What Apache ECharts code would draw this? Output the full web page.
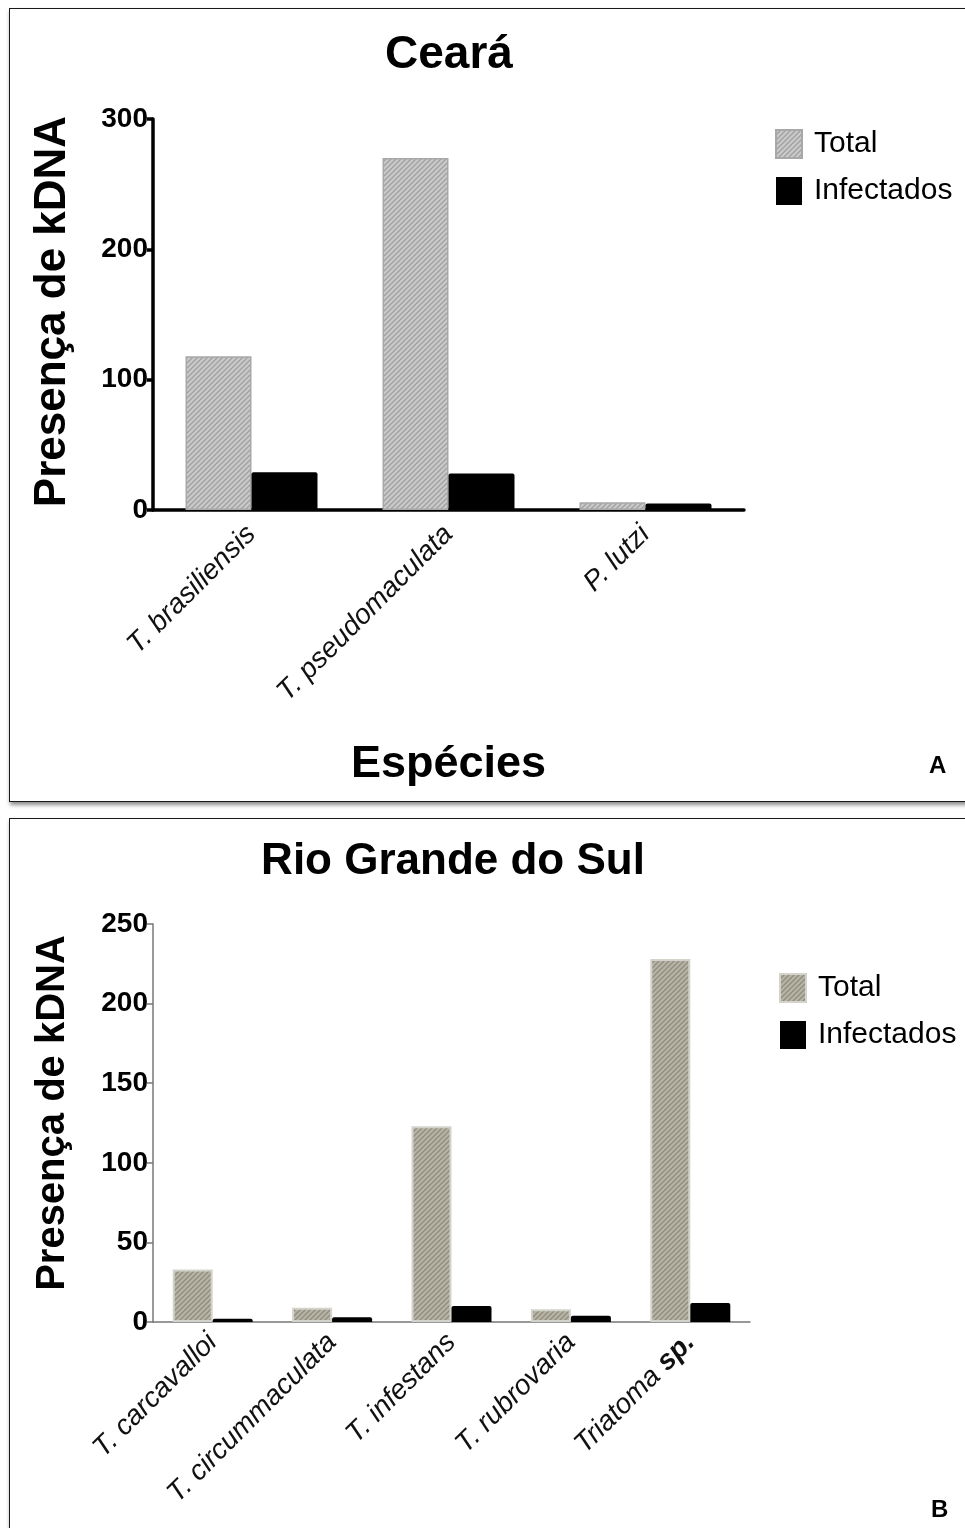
<!DOCTYPE html>
<html>
<head>
<meta charset="utf-8">
<script src="https://cdn.jsdelivr.net/npm/echarts@6/dist/echarts.min.js"></script>
<style>
  html, body { margin: 0; padding: 0; background: #fff; width: 965px; height: 1528px; overflow: hidden; }
  .panel { position: absolute; left: 9px; width: 980px; border: 1.5px solid #1a1a1a; background: #fff;
           box-shadow: 1px 3px 4px rgba(0,0,0,0.45); }
  #panelA { top: 8px; height: 792px; }
  #panelB { top: 818px; height: 740px; }
  .chart { position: absolute; left: 0; width: 965px; }
  #chartA { top: 0; height: 805px; }
  #chartB { top: 805px; height: 723px; }
</style>
</head>
<body>
<div class="panel" id="panelA"></div>
<div class="panel" id="panelB"></div>
<div class="chart" id="chartA"></div>
<div class="chart" id="chartB"></div>
<script>
// Ceará
const cearaSpecies = ['T. brasiliensis', 'T. pseudomaculata', 'P. lutzi'];
const cearaTotal = [118, 270, 6];
const cearaInfected = [29, 28, 5];
const cearaTicks = [0, 100, 200, 300];

// Rio Grande do Sul
const rsSpecies = ['T. carcavalloi', 'T. circummaculata', 'T. infestans', 'T. rubrovaria', 'Triatoma sp.'];
const rsTotal = [33, 9, 123, 8, 228];
const rsInfected = [2, 3, 10, 4, 12];
const rsTicks = [0, 50, 100, 150, 200, 250];

const FONT = "'Liberation Sans', Arial, Helvetica, sans-serif";

// diagonal hatch fill for the "Total" bars
function hatch(bg, line, p) {
  const c = document.createElement('canvas');
  c.width = p; c.height = p;
  const ctx = c.getContext('2d');
  ctx.fillStyle = bg; ctx.fillRect(0, 0, p, p);
  ctx.strokeStyle = line; ctx.lineWidth = 1.3;
  ctx.beginPath();
  ctx.moveTo(-1, p + 1); ctx.lineTo(p + 1, -1);
  ctx.moveTo(-1, 1); ctx.lineTo(1, -1);
  ctx.moveTo(p - 1, p + 1); ctx.lineTo(p + 1, p - 1);
  ctx.stroke();
  return { image: c, repeat: 'repeat' };
}

function buildOption(cfg) {
  return {
    animation: false,
    textStyle: { fontFamily: FONT },
    title: {
      text: cfg.title, left: cfg.titleX, top: cfg.titleTop, textAlign: 'center', padding: 0,
      textStyle: { fontFamily: FONT, fontSize: cfg.titleSize, fontWeight: 'bold', color: '#000' }
    },
    legend: {
      orient: 'vertical', left: cfg.legendLeft, top: cfg.legendTop, padding: 0,
      icon: 'rect', itemWidth: 26, itemHeight: 28, itemGap: 17,
      textStyle: { fontFamily: FONT, fontSize: 30, color: '#000', padding: [0, 0, 0, 7] },
      data: ['Total', 'Infectados']
    },
    grid: { left: 153, top: cfg.gridTop, width: cfg.gridWidth, height: cfg.gridHeight, containLabel: false },
    xAxis: {
      type: 'category', data: cfg.categories,
      name: cfg.xName || '', nameLocation: 'middle', nameGap: 232,
      nameTextStyle: { fontFamily: FONT, fontSize: 45, fontWeight: 'bold', color: '#000' },
      axisLine: { lineStyle: { color: cfg.axisColor, width: cfg.axisWidth } },
      axisTick: { alignWithLabel: true, length: 7, lineStyle: { color: cfg.axisColor, width: cfg.axisWidth } },
      axisLabel: {
        rotate: 45, margin: cfg.labelMargin, interval: 0, fontFamily: FONT, fontSize: 28, fontStyle: 'italic', color: '#111',
        formatter: v => v === 'Triatoma sp.' ? '{i|Triatoma} {b|sp.}' : v,
        rich: {
          i: { fontFamily: FONT, fontSize: 28, fontStyle: 'italic', color: '#111' },
          b: { fontFamily: FONT, fontSize: 28, fontWeight: 'bold', color: '#111' }
        }
      }
    },
    yAxis: {
      type: 'value', min: 0, max: cfg.ticks[cfg.ticks.length - 1], interval: cfg.ticks[1] - cfg.ticks[0],
      name: 'Presença de kDNA', nameLocation: 'middle', nameGap: cfg.yNameGap, nameRotate: 90,
      nameTextStyle: { fontFamily: FONT, fontSize: cfg.yNameSize, fontWeight: 'bold', color: '#000', padding: cfg.yNamePad },
      splitLine: { show: false },
      axisLine: { show: true, lineStyle: { color: cfg.axisColor, width: cfg.axisWidth } },
      axisTick: { show: true, length: 6, lineStyle: { color: cfg.axisColor, width: cfg.axisWidth } },
      axisLabel: { margin: 5, fontFamily: FONT, fontSize: 28, fontWeight: 'bold', color: '#000' }
    },
    graphic: [{
      type: 'text', left: cfg.letterX, top: cfg.letterY,
      style: { text: cfg.letter, font: 'bold 24px ' + FONT, fill: '#000' }
    }],
    series: [
      {
        name: 'Total', type: 'bar', data: cfg.total, barGap: '0%', barCategoryGap: '33%',
        itemStyle: { color: cfg.totalFill, borderColor: cfg.totalBorder, borderWidth: cfg.totalBorderWidth }
      },
      {
        name: 'Infectados', type: 'bar', data: cfg.infected, barGap: '0%', barCategoryGap: '33%',
        itemStyle: { color: '#000', borderRadius: [2, 2, 0, 0] }
      }
    ]
  };
}

const chartA = echarts.init(document.getElementById('chartA'), null, { renderer: 'canvas' });
chartA.setOption(buildOption({
  title: 'Ceará', titleX: 449, titleTop: 32, titleSize: 46,
  legendLeft: 775, legendTop: 129,
  gridTop: 119, gridWidth: 591, gridHeight: 391,
  categories: cearaSpecies, total: cearaTotal, infected: cearaInfected, ticks: cearaTicks,
  xName: 'Espécies', labelMargin: 20,
  yNameGap: 78, yNameSize: 44, yNamePad: [0, 0, 0, 6],
  axisColor: '#000', axisWidth: 3.5,
  totalFill: hatch('#cacaca', '#a0a0a0', 5), totalBorder: '#a8a8a8', totalBorderWidth: 1.5,
  letter: 'A', letterX: 929, letterY: 754
}));

const chartB = echarts.init(document.getElementById('chartB'), null, { renderer: 'canvas' });
chartB.setOption(buildOption({
  title: 'Rio Grande do Sul', titleX: 453, titleTop: 35, titleSize: 44,
  legendLeft: 779, legendTop: 168,
  gridTop: 119, gridWidth: 597, gridHeight: 398,
  categories: rsSpecies, total: rsTotal, infected: rsInfected, ticks: rsTicks,
  labelMargin: 16,
  yNameGap: 80, yNameSize: 40, yNamePad: [0, 0, 0, 20],
  axisColor: '#777', axisWidth: 1.5,
  totalFill: hatch('#b7b4a5', '#8f8c7f', 5), totalBorder: '#d3d3cb', totalBorderWidth: 2,
  letter: 'B', letterX: 931, letterY: 693
}));
</script>
</body>
</html>
